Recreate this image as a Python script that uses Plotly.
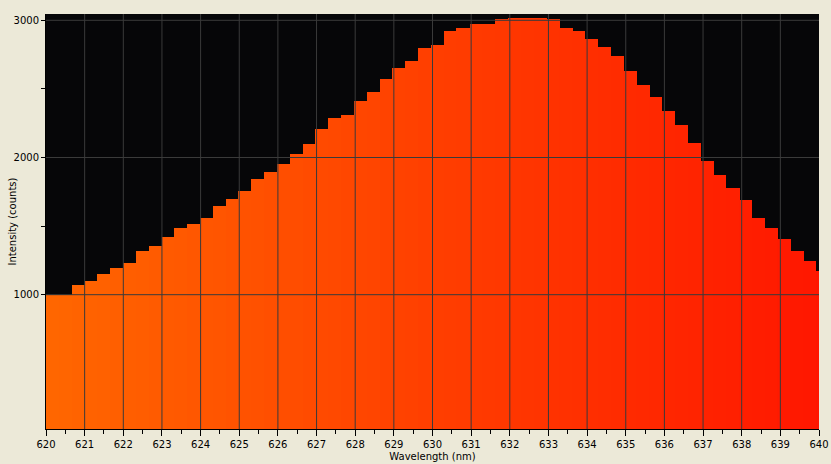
import plotly.graph_objects as go

# Wavelength bin starts (nm)
wavelengths = [
    620.00, 620.33, 620.66, 621.00, 621.33, 621.66, 621.99, 622.32, 622.66, 622.99,
    623.32, 623.65, 623.98, 624.32, 624.65, 624.98, 625.31, 625.64, 625.98, 626.31,
    626.64, 626.97, 627.30, 627.64, 627.97, 628.30, 628.63, 628.96, 629.30, 629.63,
    629.96, 630.29, 630.62, 630.96, 631.29, 631.62, 631.95, 632.28, 632.62, 632.95,
    633.28, 633.61, 633.94, 634.28, 634.61, 634.94, 635.27, 635.60, 635.94, 636.27,
    636.60, 636.93, 637.26, 637.60, 637.93, 638.26, 638.59, 638.92, 639.26, 639.59,
    639.92,
]
# Intensity (counts)
intensity = [
    1000, 1000, 1071, 1100, 1151, 1195, 1231, 1318, 1355, 1421,
    1487, 1516, 1559, 1647, 1698, 1756, 1843, 1894, 1953, 2025,
    2099, 2207, 2288, 2310, 2412, 2477, 2572, 2652, 2703, 2798,
    2820, 2922, 2944, 2973, 2973, 3010, 3017, 3017, 3017, 3010,
    2944, 2922, 2864, 2806, 2740, 2631, 2529, 2441, 2339, 2237,
    2106, 1974, 1872, 1777, 1690, 1559, 1487, 1406, 1318, 1245,
    1173,
]
x_ticks = list(range(620, 641))
y_ticks = [1000, 2000, 3000]
y_minor = [1500, 2500]
x_grid = list(range(621, 640))

FONT = "DejaVu Sans"
GRID = "#3a3a3a"
ML, MR = 46, 12
PLOT_W = 831 - ML - MR

fig = go.Figure()
fig.add_trace(go.Bar(
    x=wavelengths, y=intensity, width=0.345, offset=0,
    marker=dict(color=wavelengths, colorscale=[[0, "#FF6600"], [1, "#FF1600"]],
                cmin=620, cmax=640, line=dict(width=0)),
    hoverinfo="x+y",
))

shapes = []
for xv in x_grid:
    shapes.append(dict(type="line", xref="x", yref="paper", x0=xv, x1=xv, y0=0, y1=1,
                       line=dict(color=GRID, width=1), layer="above"))
for yv in y_ticks:
    shapes.append(dict(type="line", xref="paper", yref="y", x0=0, x1=1, y0=yv, y1=yv,
                       line=dict(color=GRID, width=1), layer="above"))

fig.update_layout(
    width=831, height=464,
    margin=dict(l=ML, r=MR, t=14, b=35),
    paper_bgcolor="#ECE9D8", plot_bgcolor="#060608",
    font=dict(family=FONT, size=10, color="black"),
    bargap=0, showlegend=False, shapes=shapes,
    annotations=[dict(
        text="Intensity (counts)", textangle=-90, xref="paper", yref="paper",
        x=(12 - ML) / PLOT_W, y=0.5, xanchor="center", yanchor="middle",
        showarrow=False, font=dict(size=10, family=FONT, color="black"),
    )],
    xaxis=dict(
        range=[620, 640], tickmode="array", tickvals=x_ticks, automargin=False,
        ticks="outside", ticklen=6, tickcolor="black", tickwidth=1,
        showline=True, linecolor="black", linewidth=1,
        showgrid=False, zeroline=False,
        minor=dict(tickmode="array", tickvals=[v + 0.5 for v in x_ticks[:-1]],
                   ticks="outside", ticklen=4, tickcolor="black", showgrid=False),
        title=dict(text="Wavelength (nm)", standoff=3, font=dict(size=10)),
        tickfont=dict(size=10),
    ),
    yaxis=dict(
        range=[21, 3046], tickmode="array", tickvals=y_ticks, automargin=False,
        ticks="outside", ticklen=4, tickcolor="black", tickwidth=1,
        showline=True, linecolor="black", linewidth=1,
        showgrid=False, zeroline=False,
        minor=dict(tickmode="array", tickvals=y_minor,
                   ticks="outside", ticklen=4, tickcolor="black", showgrid=False),
        tickfont=dict(size=10),
    ),
)

fig.write_html(
    "out.html",
    config={"displayModeBar": False},
    post_script="document.body.style.margin='0';document.body.style.background='#ECE9D8';",
)
